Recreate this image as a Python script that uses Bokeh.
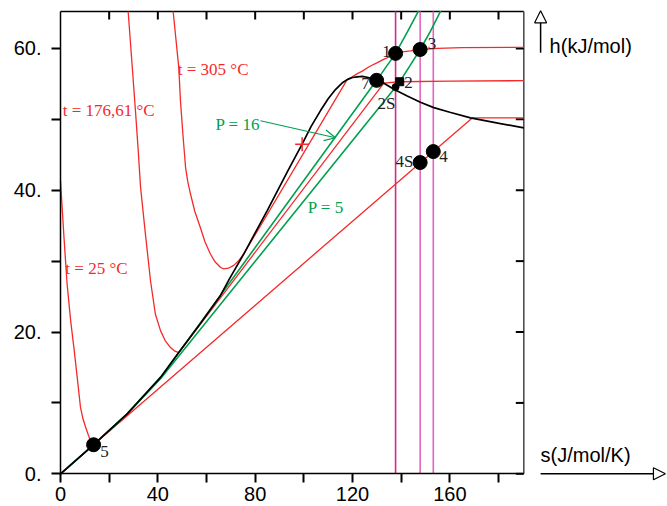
from bokeh.plotting import figure
from bokeh.models import Range1d, FixedTicker, Label, Arrow, NormalHead, OpenHead
from bokeh.embed import file_html
from bokeh.resources import INLINE

# ---------------- data ----------------
X_MAX, Y_MAX = 190.4, 65.2          # extent of the boxed diagram
x_ticks = [0, 40, 80, 120, 160]
x_minor = [20, 60, 100, 140, 180]
y_ticks = [0, 20, 40, 60]
y_minor = [10, 30, 50]
y_tick_labels = ["0.", "20.", "40.", "60."]
top_ticks = [20, 40, 60, 80, 100, 120, 140, 160, 180]
right_ticks = [0, 10, 20, 30, 40, 50, 60]

# saturation dome (black)
dome_s = [0, 13.6, 27.4, 41.1, 48.6, 57.5, 65.8, 69.6, 75.3, 84.9, 93.2, 99.3, 103.0, 106.8,
          110.0, 113.0, 116.0, 117.8, 120.0, 122.0, 124.0, 126.5, 129.9, 132.9, 137.0, 142.5,
          147.9, 153.4, 160.0, 168.5, 180.8, 190.4]
dome_h = [0, 4.1, 8.45, 13.6, 17.1, 21.2, 25.2, 27.6, 31.0, 37.1, 42.6, 46.5, 49.0, 51.2,
          52.9, 54.2, 55.2, 55.6, 55.9, 56.0, 56.05, 55.9, 55.5, 55.1, 54.25, 53.3,
          52.4, 51.65, 51.0, 50.2, 49.4, 48.8]

# isotherms (red)
t25_s = [0, 1.4, 2.7, 4.2, 5.5, 6.9, 8.2, 9.2, 10.3, 11.4, 12.3, 13.6, 169.2, 190.4]
t25_h = [41.3, 33.5, 26.8, 21.5, 17.8, 13.5, 9.4, 7.8, 6.6, 5.5, 4.7, 4.1, 50.2, 50.2]
t176_s = [27.8, 29.5, 30.8, 31.9, 32.9, 34.9, 37.0, 39.0, 41.1, 43.0, 45.2, 47.0, 48.6,
          132.9, 139.4, 160.0, 190.4]
t176_h = [65.2, 57.3, 51.2, 45.8, 40.4, 33.8, 27.2, 22.5, 20.2, 18.8, 17.8, 17.3, 17.1,
          55.1, 55.3, 55.4, 55.45]
t305_s = [46.3, 48.6, 49.3, 50.3, 51.4, 52.3, 53.4, 55.2, 57.5, 59.4, 61.6, 63.5, 65.8,
          67.1, 69.0, 71.2, 73.3, 75.3, 117.8, 119.9, 122.0, 124.0, 127.0, 130.2, 133.0,
          135.6, 137.7, 140.5, 143.8, 147.8, 155.0, 165.0, 190.4]
t305_h = [65.2, 57.3, 52.6, 47.9, 43.2, 41.2, 39.5, 37.0, 34.7, 32.7, 31.0, 29.9, 29.1,
          28.9, 29.0, 29.4, 30.1, 31.0, 55.6, 56.0, 56.45, 56.8, 57.45, 58.0, 58.5,
          58.9, 59.3, 59.5, 59.65, 59.85, 60.0, 60.1, 60.15]

# isobars (green)
p16_s = [0, 13.6, 27.4, 41.1, 48.6, 55.0, 129.9, 131.9, 133.8, 135.8, 137.7, 142.5, 147.1]
p16_h = [0, 4.1, 8.45, 13.6, 17.1, 20.1, 55.5, 56.45, 57.4, 58.35, 59.3, 62.3, 65.25]
p5_s = [0, 13.6, 27.4, 41.1, 137.0, 137.7, 139.4, 143.5, 147.8, 152.0, 156.2]
p5_h = [0, 4.1, 8.45, 13.4, 54.25, 54.55, 55.3, 57.5, 59.85, 62.4, 65.25]

# cycle states
big_s = [137.7, 147.8, 147.8, 153.2, 13.6, 129.9]      # 1, 3, 4S, 4, 5, 7
big_h = [59.3, 59.85, 43.9, 45.45, 4.1, 55.5]
s2S, h2S = 137.7, 54.55
s2, h2 = 139.4, 55.3
crit_s, crit_h = 99.3, 46.5
vline_s = [137.7, 147.8, 153.2]

# ---------------- styling / layout ----------------
RED = "#f42a2a"
GREEN = "#00a04e"
SERIF = "Liberation Serif"
SANS = "Liberation Sans"
# the frame fills the whole canvas; the box and both axes sit at fixed data positions
X_START, X_END = -24.66, 249.45
Y_START, Y_END = -4.61, 66.76
PX_S = 667 / (X_END - X_START)
PX_H = 506 / (Y_END - Y_START)
TICK = 8                # inner tick length, px

p = figure(width=667, height=506, x_range=Range1d(X_START, X_END), y_range=Range1d(Y_START, Y_END),
           output_backend="svg", toolbar_location=None,
           min_border_left=0, min_border_right=0, min_border_top=0, min_border_bottom=0)
p.grid.visible = False
p.outline_line_color = None

xa = p.xaxis[0]
xa.ticker = FixedTicker(ticks=x_ticks, minor_ticks=x_minor)
xa.bounds = (0, X_MAX)
xa.fixed_location = 0
ya = p.yaxis[0]
ya.ticker = FixedTicker(ticks=y_ticks, minor_ticks=y_minor)
ya.bounds = (0, Y_MAX)
ya.fixed_location = 0
ya.major_label_overrides = {t: lab for t, lab in zip(y_ticks, y_tick_labels)}
for ax in (xa, ya):
    ax.major_tick_out = 9
    ax.major_tick_in = 0
    ax.minor_tick_out = 9
    ax.minor_tick_in = 0
    ax.major_tick_line_width = 2
    ax.minor_tick_line_width = 2
    ax.axis_line_width = 1.5
    ax.major_label_text_font = SANS
    ax.major_label_text_font_size = "20px"
    ax.major_label_text_color = "black"
xa.major_label_standoff = 4
ya.major_label_standoff = 10

# top and right sides of the box, with inward ticks
p.line([0, X_MAX], [Y_MAX, Y_MAX], line_color="black", line_width=1.5)
p.line([X_MAX, X_MAX], [0, Y_MAX], line_color="#444444", line_width=1.5)
p.segment(x0=top_ticks, y0=[Y_MAX] * len(top_ticks), x1=top_ticks,
          y1=[Y_MAX - TICK / PX_H] * len(top_ticks), line_color="black", line_width=2)
p.segment(x0=[X_MAX] * len(right_ticks), y0=right_ticks,
          x1=[X_MAX - TICK / PX_S] * len(right_ticks), y1=right_ticks,
          line_color="black", line_width=2)

# vertical lines at the turbine entropies
vcols = ["#d42a8c", "#e466bd", "#e466bd"]
p.segment(x0=vline_s, y0=[0] * 3, x1=vline_s, y1=[Y_MAX] * 3, line_color=vcols, line_width=1.6)

p.line(t25_s, t25_h, line_color=RED, line_width=1.3)
p.line(t176_s, t176_h, line_color=RED, line_width=1.3)
p.line(t305_s, t305_h, line_color=RED, line_width=1.3)
p.line(p16_s, p16_h, line_color=GREEN, line_width=1.6)
p.line(p5_s, p5_h, line_color=GREEN, line_width=1.6)
p.line(dome_s, dome_h, line_color="black", line_width=1.7)

p.scatter([crit_s], [crit_h], marker="cross", size=14, line_color=RED, line_width=1.5)
p.scatter(big_s, big_h, size=14, color="black")
p.scatter([s2S], [h2S], size=7, color="black")
p.scatter([s2], [h2], marker="square", size=8, color="black")


def lab(x, y, t, color="#222222", size="17px", font=SERIF, align="center"):
    p.add_layout(Label(x=x, y=y, text=t, text_color=color, text_font=font,
                       text_font_size=size, text_align=align, text_baseline="middle"))


lab(48.2, 57.0, "t = 305 °C", RED, align="left")
lab(0.9, 51.2, "t = 176,61 °C", RED, align="left")
lab(2.0, 29.0, "t = 25 °C", RED, align="left")
lab(63.7, 49.2, "P = 16", GREEN, align="left")
lab(101.6, 37.5, "P = 5", GREEN, align="left")

lab(134.0, 59.6, "1")
lab(152.7, 60.7, "3")
lab(125.3, 55.0, "7")
lab(143.0, 55.2, "2")
lab(134.0, 52.2, "2S")
lab(141.4, 44.1, "4S")
lab(157.4, 44.8, "4")
lab(18.1, 3.1, "5")

p.add_layout(Arrow(end=OpenHead(size=11, line_color=GREEN, line_width=1.2),
                   x_start=82.2, y_start=49.8, x_end=113.0, y_end=47.4,
                   line_color=GREEN, line_width=1.2))

# axis names with their arrows
p.add_layout(Arrow(end=NormalHead(size=12, fill_color="white", line_color="black", line_width=1.2),
                   x_start=197.3, y_start=59.4, x_end=197.3, y_end=65.3,
                   line_color="black", line_width=1.5))
p.add_layout(Arrow(end=NormalHead(size=12, fill_color="white", line_color="black", line_width=1.2),
                   x_start=197.3, y_start=0, x_end=248.6, y_end=0,
                   line_color="black", line_width=1.5))
lab(201.0, 60.4, "h(kJ/mol)", "black", "20px", SANS, "left")
lab(197.3, 2.6, "s(J/mol/K)", "black", "20px", SANS, "left")

open("out.html", "w").write(file_html(p, INLINE))
